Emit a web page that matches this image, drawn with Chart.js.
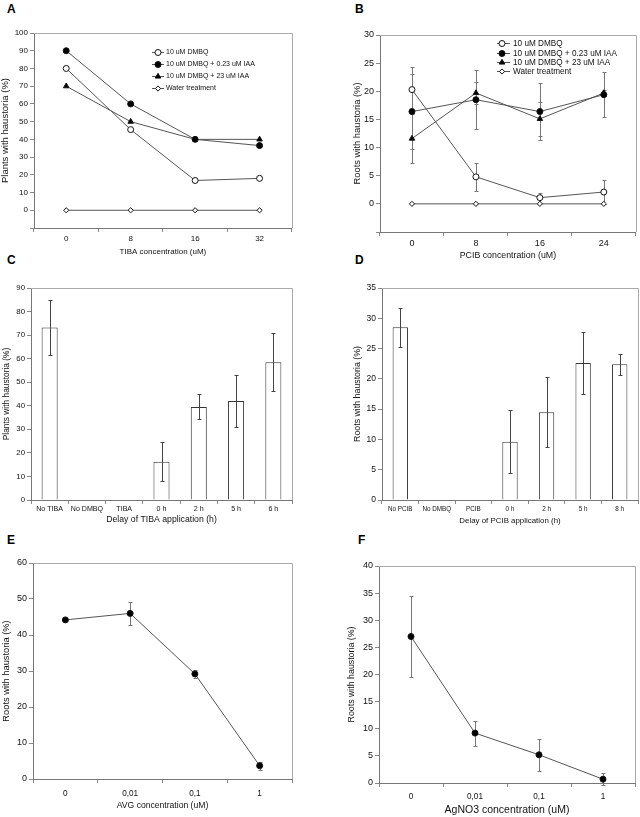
<!DOCTYPE html>
<html lang="en">
<head>
<meta charset="UTF-8">
<title>Haustoria</title>
<script src="https://cdn.jsdelivr.net/npm/chart.js"></script>
<style>
    body { margin: 0; background: #fff; width: 640px; height: 817px; position: relative; overflow: hidden; }
    canvas { position: absolute; }
    .lbl { position: absolute; font: bold 12px "Liberation Sans", Arial, sans-serif; color: #000; }
</style>
</head>
<body>
<div class="lbl" style="left:7px;top:2px">A</div>
<div class="lbl" style="left:355px;top:2px">B</div>
<div class="lbl" style="left:7px;top:253px">C</div>
<div class="lbl" style="left:355px;top:253px">D</div>
<div class="lbl" style="left:7px;top:533px">E</div>
<div class="lbl" style="left:358px;top:533px">F</div>

<canvas id="chartA" width="296" height="233" style="left:0px;top:25px"></canvas>
<canvas id="chartB" width="288" height="235" style="left:352px;top:27px"></canvas>
<canvas id="chartC" width="294" height="246" style="left:2px;top:280px"></canvas>
<canvas id="chartD" width="288" height="247" style="left:352px;top:280px"></canvas>
<canvas id="chartE" width="295" height="257" style="left:1px;top:555px"></canvas>
<canvas id="chartF" width="293" height="259" style="left:346px;top:558px"></canvas>

<script>
    // A - TIBA
    const concA = ['0', '8', '16', '32'];
    const dmbqA = [80, 45.5, 16.8, 18];
    const iaaLowA = [90, 60, 40, 36.5];
    const iaaHighA = [70, 50, 40, 40];
    const waterA = [0, 0, 0, 0];

    // B - PCIB
    const concB = ['0', '8', '16', '24'];
    const dmbqB = [20.3, 4.8, 1.1, 2.1];
    const dmbqErrB = [4.1, 2.5, 0.9, 2.2];
    const iaaLowB = [16.4, 18.5, 16.4, 19.4];
    const iaaLowErrB = [6.7, 5.2, 5.0, 4.0];
    const iaaHighB = [11.6, 19.7, 15.1, 19.7];
    const iaaHighErrB = [4.3, 1.9, 3.0, 0.6];
    const waterB = [0, 0, 0, 0];

    // C - delay of TIBA
    const treatC = ['No TIBA', 'No DMBQ', 'TIBA', '0 h', '2 h', '5 h', '6 h'];
    const plantsC = [73.2, 0, 0, 16.2, 39.5, 42, 58.5];
    const errC = [11.5, 0, 0, 8.3, 5.3, 11, 12.2];

    // D - delay of PCIB
    const treatD = ['No PCIB', 'No DMBQ', 'PCIB', '0 h', '2 h', '5 h', '8 h'];
    const rootsD = [28.5, 0, 0, 9.6, 14.5, 22.6, 22.4];
    const errD = [3.2, 0, 0, 5.2, 5.8, 5.1, 1.7];

    // E - AVG
    const concE = ['0', '0,01', '0,1', '1'];
    const rootsE = [44.2, 46, 29.2, 3.7];
    const errE = [0, 3.2, 1.1, 1.1];

    // F - AgNO3
    const concF = ['0', '0,01', '0,1', '1'];
    const rootsF = [27, 9.2, 5.2, 0.7];
    const errF = [7.5, 2.3, 2.9, 1.1];

    const FONT = '"Liberation Sans", Arial, sans-serif';
    Chart.defaults.font.family = FONT;
    Chart.defaults.color = '#111';

    // top and right frame lines
    const boxPlugin = {
        id: 'box',
        beforeDatasetsDraw(chart) {
            const {ctx, chartArea: a} = chart;
            ctx.save();
            ctx.strokeStyle = '#aaa';
            ctx.lineWidth = 1;
            ctx.beginPath();
            ctx.moveTo(a.left, Math.round(a.top) + 0.5);
            ctx.lineTo(Math.round(a.right) + 0.5, Math.round(a.top) + 0.5);
            ctx.lineTo(Math.round(a.right) + 0.5, a.bottom);
            ctx.stroke();
            ctx.restore();
        }
    };

    function drawErrors(chart) {
        const {ctx} = chart;
        const y = chart.scales.y;
        chart.data.datasets.forEach((ds, i) => {
            if (!ds.errors) return;
            const meta = chart.getDatasetMeta(i);
            ctx.save();
            ctx.strokeStyle = ds.errorColor || '#555';
            ctx.lineWidth = 1;
            meta.data.forEach((el, j) => {
                const e = ds.errors[j];
                if (!e) return;
                const x = Math.round(el.x) + 0.5;
                const top = Math.round(y.getPixelForValue(ds.data[j] + e)) + 0.5;
                const bot = Math.round(y.getPixelForValue(ds.data[j] - e)) + 0.5;
                ctx.beginPath();
                ctx.moveTo(x, top); ctx.lineTo(x, bot);
                ctx.moveTo(x - 2, top); ctx.lineTo(x + 2, top);
                ctx.moveTo(x - 2, bot); ctx.lineTo(x + 2, bot);
                ctx.stroke();
            });
            ctx.restore();
        });
    }

    const errorBars = {
        id: 'errorBars',
        beforeDatasetsDraw(chart, args, opts) { if (!opts.after) drawErrors(chart); },
        afterDatasetsDraw(chart, args, opts) { if (opts.after) drawErrors(chart); }
    };

    // legend inside the plot area: line, marker, label
    const inLegend = {
        id: 'inLegend',
        afterDatasetsDraw(chart, args, opts) {
            if (!opts.show) return;
            const {ctx, chartArea: a} = chart;
            ctx.save();
            ctx.font = opts.size + 'px ' + FONT;
            ctx.textBaseline = 'middle';
            chart.data.datasets.forEach((ds, i) => {
                const x = a.left + opts.x;
                const y = Math.round(a.top + opts.y + i * opts.dy);
                ctx.strokeStyle = ds.borderColor;
                ctx.lineWidth = 1;
                ctx.beginPath();
                ctx.moveTo(x, y + 0.5); ctx.lineTo(x + opts.len, y + 0.5);
                ctx.stroke();
                ctx.fillStyle = ds.pointBackgroundColor;
                ctx.strokeStyle = ds.pointBorderColor;
                Chart.helpers.drawPoint(ctx, {pointStyle: ds.pointStyle, radius: ds.pointRadius, borderWidth: 1, rotation: 0}, x + opts.mark, y + 0.5);
                ctx.fillStyle = '#111';
                ctx.fillText(ds.label, x + opts.len + opts.gap, y + 0.5);
            });
            ctx.restore();
        }
    };

    function series(label, data, style, fill, radius, errors) {
        return {
            type: 'line', label: label, data: data, errors: errors, errorColor: '#777',
            borderColor: '#555', borderWidth: 1,
            pointStyle: style, pointRadius: radius, pointHoverRadius: radius,
            pointBackgroundColor: fill, pointBorderColor: '#111', pointBorderWidth: 1
        };
    }

    function bars(data, errors, pct) {
        return {
            type: 'bar', data: data, errors: errors, errorColor: '#444',
            backgroundColor: '#fff', borderColor: '#333', borderWidth: 1,
            barPercentage: pct, categoryPercentage: 1
        };
    }

    function panel(id, p) {
        return new Chart(document.getElementById(id), {
            type: p.type,
            data: {labels: p.labels, datasets: p.datasets},
            options: {
                responsive: false,
                animation: false,
                layout: {padding: {top: 8, right: p.padRight, bottom: 0, left: 0}},
                plugins: {
                    legend: {display: false},
                    tooltip: {enabled: false},
                    inLegend: p.legend || {show: false},
                    errorBars: {after: p.type === 'bar'}
                },
                scales: {
                    x: {
                        offset: true,
                        grid: {offset: true, drawOnChartArea: false, tickLength: 4, color: '#888'},
                        border: {color: '#777'},
                        ticks: {font: {size: p.xTick}, padding: p.xPad, maxRotation: 0, autoSkip: false},
                        title: {display: true, text: p.xTitle, font: {size: p.xTitleSize}, padding: {top: 0, bottom: 1}},
                        afterFit: s => { s.height = p.xHeight; }
                    },
                    y: {
                        min: p.yMin, max: p.yMax,
                        grid: {drawOnChartArea: false, tickLength: 4, color: '#888'},
                        border: {color: '#777'},
                        ticks: {stepSize: p.yStep, font: {size: p.yTick}, padding: 2, callback: v => v < 0 ? '' : v},
                        title: {display: true, text: p.yTitle, font: {size: p.yTitleSize}, padding: {top: 0, bottom: 0}},
                        afterFit: s => { s.width = p.yWidth; }
                    }
                }
            },
            plugins: [boxPlugin, errorBars, inLegend]
        });
    }

    panel('chartA', {
        type: 'line', labels: concA,
        datasets: [
            series('10 uM DMBQ', dmbqA, 'circle', '#fff', 3),
            series('10 uM DMBQ + 0.23 uM IAA', iaaLowA, 'circle', '#000', 3),
            series('10 uM DMBQ + 23 uM IAA', iaaHighA, 'triangle', '#000', 3.2),
            series('Water treatment', waterA, 'rectRot', '#fff', 2.6)
        ],
        legend: {show: true, x: 118, y: 19, dy: 12, len: 12, mark: 6, gap: 2, size: 7},
        yMin: -10, yMax: 100, yStep: 10, yWidth: 34, padRight: 4, xHeight: 30, xPad: 2,
        xTick: 8, yTick: 8, xTitleSize: 8, yTitleSize: 9.5,
        xTitle: 'TIBA concentration (uM)', yTitle: 'Plants with haustoria (%)'
    });

    panel('chartB', {
        type: 'line', labels: concB,
        datasets: [
            series('10 uM DMBQ', dmbqB, 'circle', '#fff', 3, dmbqErrB),
            series('10 uM DMBQ + 0.23 uM IAA', iaaLowB, 'circle', '#000', 3, iaaLowErrB),
            series('10 uM DMBQ + 23 uM IAA', iaaHighB, 'triangle', '#000', 3.2, iaaHighErrB),
            series('Water treatment', waterB, 'rectRot', '#fff', 2.6)
        ],
        legend: {show: true, x: 117, y: 8.3, dy: 9.2, len: 13, mark: 5, gap: 3, size: 8.2},
        yMin: -5, yMax: 30, yStep: 5, yWidth: 28, padRight: 2, xHeight: 30, xPad: 2,
        xTick: 9, yTick: 9, xTitleSize: 8.8, yTitleSize: 9.4,
        xTitle: 'PCIB concentration (uM)', yTitle: 'Roots with haustoria (%)'
    });

    panel('chartC', {
        type: 'bar', labels: treatC,
        datasets: [bars(plantsC, errC, 0.43)],
        yMin: 0, yMax: 90, yStep: 10, yWidth: 29, padRight: 4, xHeight: 26, xPad: 1,
        xTick: 7.1, yTick: 7.8, xTitleSize: 8.7, yTitleSize: 8.4,
        xTitle: 'Delay of TIBA application (h)', yTitle: 'Plants with haustoria (%)'
    });

    panel('chartD', {
        type: 'bar', labels: treatD,
        datasets: [bars(rootsD, errD, 0.42)],
        yMin: 0, yMax: 35, yStep: 5, yWidth: 30, padRight: 2, xHeight: 27, xPad: 1.5,
        xTick: 6.3, yTick: 8.5, xTitleSize: 7.9, yTitleSize: 8.8,
        xTitle: 'Delay of PCIB application (h)', yTitle: 'Roots with haustoria (%)'
    });

    panel('chartE', {
        type: 'line', labels: concE,
        datasets: [series('AVG', rootsE, 'circle', '#000', 3, errE)],
        yMin: 0, yMax: 60, yStep: 10, yWidth: 32, padRight: 4, xHeight: 33, xPad: 6,
        xTick: 8.2, yTick: 9, xTitleSize: 8.6, yTitleSize: 9.3,
        xTitle: 'AVG concentration (uM)', yTitle: 'Roots with haustoria (%)'
    });

    panel('chartF', {
        type: 'line', labels: concF,
        datasets: [series('AgNO3', rootsF, 'circle', '#000', 3, errF)],
        yMin: 0, yMax: 40, yStep: 5, yWidth: 33, padRight: 4, xHeight: 34, xPad: 5,
        xTick: 8.2, yTick: 9, xTitleSize: 10.5, yTitleSize: 8.8,
        xTitle: 'AgNO3 concentration (uM)', yTitle: 'Roots with haustoria (%)'
    });
</script>
</body>
</html>
